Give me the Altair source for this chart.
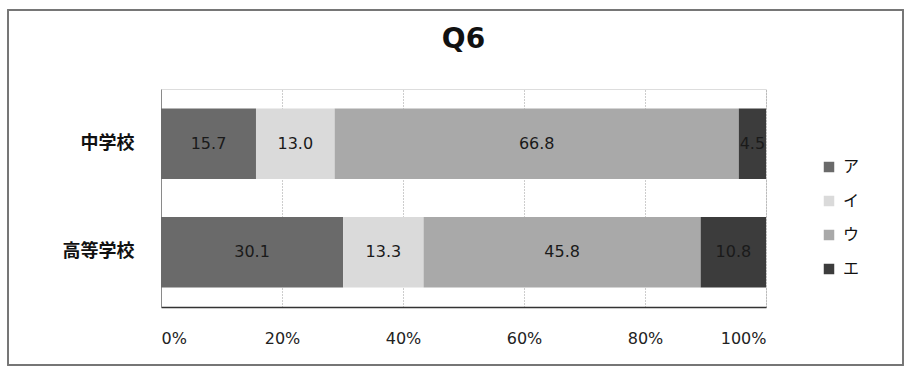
import altair as alt
import pandas as pd

schools = ["中学校", "高等学校"]
answers = ["ア", "イ", "ウ", "エ"]
values_jhs = [15.7, 13.0, 66.8, 4.5]
values_hs = [30.1, 13.3, 45.8, 10.8]
colors = ["#6a6a6a", "#dadada", "#a9a9a9", "#3c3c3c"]
ticks = [0, 20, 40, 60, 80, 100]

rows = []
for s, vals in zip(schools, [values_jhs, values_hs]):
    for i, (a, v) in enumerate(zip(answers, vals)):
        rows.append({"school": s, "answer": a, "value": v, "order": i})
df = pd.DataFrame(rows)

base = alt.Chart(df).transform_stack(
    stack="value", groupby=["school"], sort=[{"field": "order"}], as_=["x0", "x1"]
)

yenc = alt.Y(
    "school:N",
    sort=schools,
    title=None,
    scale=alt.Scale(paddingInner=0.35, paddingOuter=0.18),
    axis=alt.Axis(
        labelFont="Noto Sans CJK JP", labelFontSize=18, labelFontWeight="bold",
        labelColor="#111", labelPadding=27, ticks=False,
        domainColor="#8a8a8a", domainWidth=1,
    ),
)

bars = base.mark_bar().encode(
    x=alt.X(
        "x0:Q",
        scale=alt.Scale(domain=[0, 100], nice=False),
        title=None,
        axis=alt.Axis(
            values=ticks, labelExpr="datum.value + '%'",
            labelFont="DejaVu Sans", labelFontSize=16,
            labelColor="#222", labelPadding=23, ticks=False,
            grid=True, gridColor="#9a9a9a", gridDash=[1, 2], gridWidth=1,
            domainColor="#333", domainWidth=1.5,
        ),
    ),
    x2="x1:Q",
    y=yenc,
    color=alt.Color(
        "answer:N",
        scale=alt.Scale(domain=answers, range=colors),
        legend=alt.Legend(
            title=None, orient="none", legendX=660, legendY=70,
            symbolType="square", symbolSize=110, symbolStrokeWidth=0,
            labelFont="Noto Sans CJK JP", labelFontSize=16, labelColor="#111",
            rowPadding=18, labelOffset=6,
        ),
    ),
    order=alt.Order("order:Q"),
)

labels = base.transform_calculate(mid="(datum.x0 + datum.x1) / 2").mark_text(
    font="DejaVu Sans", fontSize=16, color="#1a1a1a", baseline="middle", align="center"
).encode(
    x="mid:Q",
    y=alt.Y("school:N", sort=schools),
    text=alt.Text("value:Q", format=".1f"),
)

frame = alt.Chart(df).mark_rect(
    fill=None, stroke="#777", strokeWidth=1.2
).encode(
    x=alt.value(-153), x2=alt.value(742), y=alt.value(-79), y2=alt.value(276)
)

chart = alt.layer(frame, bars, labels).properties(
    width=605,
    height=218,
    title=alt.TitleParams(
        "Q6", font="DejaVu Sans", fontSize=28, fontWeight="bold",
        color="#111", anchor="middle", offset=0, dy=45,
    ),
    autosize=alt.AutoSizeParams(type="none"),
    padding={"left": 161, "top": 89, "right": 145, "bottom": 61},
).configure_view(stroke=None).configure(background="white")

chart.save("out.html", embed_options={"renderer": "svg", "actions": False})
